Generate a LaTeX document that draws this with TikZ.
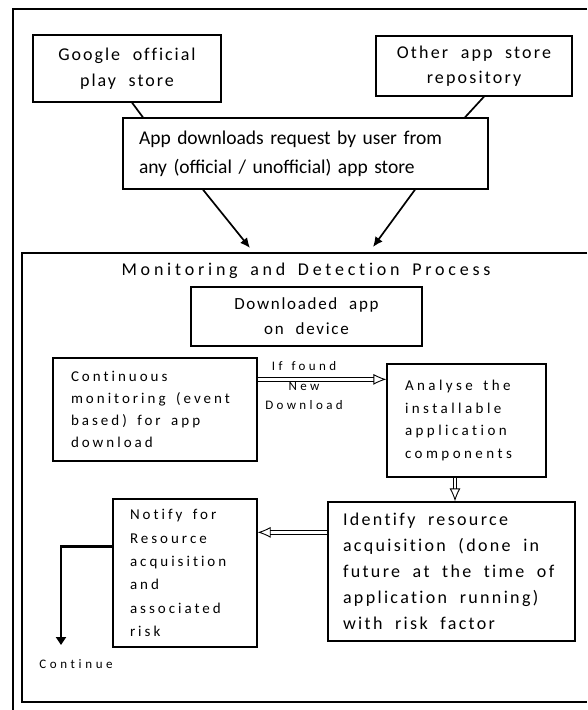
\documentclass[tikz,border=0pt]{standalone}
\usepackage{fontspec}
\setmainfont{Carlito}
\usepackage{tikz}
\usetikzlibrary{arrows.meta}

% Spaced text as in the scanned figure
\newcommand{\spaced}[3]{\fontsize{#1}{#2}\selectfont
  \addfontfeature{LetterSpace=#3, RawFeature=-liga}\spaceskip=.7em\relax}

\begin{document}
\begin{tikzpicture}[x=1pt,y=-1pt]

            % Size of the page
            \useasboundingbox (0,0) rectangle (587,710);

            % Styles for the boxes and the connectors
            \tikzstyle{box} = [rectangle, draw=black, line width=1.3pt,
                               inner ysep=2pt, anchor=center]
            \tikzstyle{spread} = [execute at begin node={\spaceskip=.7em\relax}]
            \tikzstyle{dbl} = [double, double distance=2.6pt, line width=0.9pt,
                               -{Latex[open, length=13pt, width=11pt, line width=0.9pt]}]
            \tikzstyle{link} = [line width=1.7pt]
            \tikzstyle{feed} = [line width=1.7pt, -{Latex[length=10pt,width=9pt]}]

            % Outer frame
            \draw[line width=2pt] (587,9) -- (13,9) -- (13,710);

            % Frame of the monitoring process
            \draw[line width=1.2pt] (587,253) -- (22,253) -- (22,702) -- (587,702);

            % First store
            \node[box, minimum width=188pt, minimum height=67pt, align=center,
                  font=\spaced{18}{26}{11}]
                  (store1) at (127,68.5) {Google official \\ play store};

            % Second store
            \node[box, minimum width=196pt, minimum height=60pt, align=center,
                  font=\spaced{18}{25}{12}]
                  (store2) at (474,66) {Other app store \\ repository};

            % Download request
            \node[box, minimum width=365pt, minimum height=71pt, text width=333pt,
                  inner xsep=16pt, align=left, font=\fontsize{19.5}{29}\selectfont]
                  (request) at (305.5,153.5) {App downloads request by user from \\ any (official / unofficial) app store};

            % Title of the process
            \node[font=\spaced{18}{20}{21}]
                  (title) at (306,271) {Monitoring and Detection Process};

            % Downloaded app
            \node[box, minimum width=231pt, minimum height=59pt, align=center,
                  font=\spaced{17}{25}{10}]
                  (device) at (306.5,316.5) {Downloaded app \\ on device};

            % Monitoring
            \node[box, spread, minimum width=204pt, minimum height=103pt, text width=168pt,
                  inner xsep=18pt, align=left, font=\spaced{15}{22}{20}]
                  (monitor) at (155,409.5) {Continuous \\ monitoring (event \\ based) for app \\ download};

            % Analysis
            \node[box, spread, minimum width=159pt, minimum height=113pt, text width=123pt,
                  inner xsep=18pt, align=left, font=\spaced{15}{22.5}{23}]
                  (analyse) at (466.5,420.5) {Analyse the \\ installable \\ application \\ components};

            % Identification
            \node[box, spread, minimum width=247pt, minimum height=139pt, text width=217pt,
                  inner xsep=15pt, align=left, font=\spaced{18}{26}{13}]
                  (identify) at (451.5,571.5) {Identify resource \\ acquisition (done in \\ future at the time of \\ application running) \\ with risk factor};

            % Notification
            \node[box, spread, minimum width=144pt, minimum height=148pt, text width=110pt,
                  inner xsep=17pt, align=left, font=\spaced{15}{23.4}{20}]
                  (notify) at (185,573) {Notify for \\ Resource \\ acquisition \\ and \\ associated \\ risk};

            % Condition on the first arrow
            \node[align=center, inner sep=0pt, font=\spaced{13}{19.5}{26}]
                  (found) at (304,386) {If found \\ New \\ Download};

            % End of the flow
            \node[inner sep=0pt, font=\spaced{13}{14}{28}]
                  (continue) at (76,664) {Continue};

            % Ends of the arrows
            \coordinate (in1) at (250,248);
            \coordinate (in2) at (373,247);
            \coordinate (down) at (61,645);
            \coordinate (back) at ([yshift=-31pt]identify.north west);

            % Connectors
            \draw[link] ([xshift=5pt]store1.south) -- ([xshift=-162.5pt]request.north);
            \draw[link] ([xshift=10pt]store2.south) -- ([xshift=159.5pt]request.north);
            \draw[feed] ([xshift=-102.5pt]request.south) -- (in1);
            \draw[feed] ([xshift=109.5pt]request.south) -- (in2);
            \draw[dbl] ([yshift=-22pt]monitor.north east) -- ([yshift=-16pt]analyse.north west);
            \draw[dbl] ([xshift=-11.5pt]analyse.south) -- ([xshift=-11.5pt]analyse.south |- identify.north);
            \draw[dbl] (back) -- (notify.east |- back);
            \draw[line width=2.4pt, -{Triangle[length=8pt,width=10pt]}]
                  ([yshift=-48pt]notify.north west) -| (down);

\end{tikzpicture}
\end{document}
